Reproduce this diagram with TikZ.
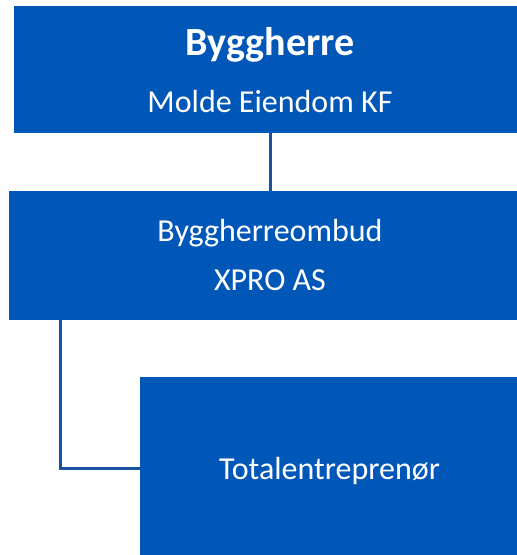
\documentclass[tikz,border=0pt]{standalone}
\usepackage{fontspec}
\setmainfont{Carlito}
\usepackage{tikz}
\definecolor{boxblue}{RGB}{0,87,184}
\definecolor{lineblue}{RGB}{22,82,160}

\begin{document}
\begin{tikzpicture}[x=1pt,y=-1pt,
        box/.style={fill=boxblue,draw=none,inner sep=0pt,outer sep=0pt,anchor=north west},
        boxtext/.style={text=white,inner sep=0pt,anchor=base,font=\fontsize{32}{38}\selectfont},
        boxtitle/.style={boxtext,font=\fontsize{40}{48}\selectfont\bfseries},
        link/.style={draw=lineblue,line width=3pt}]
        \useasboundingbox(0,0)rectangle(517,555);
        \node[box,minimum width=512pt,minimum height=127pt](byggherre)at(14,6){};
        \node[box,minimum width=522pt,minimum height=129pt](ombud)at(9,191){};
        \node[box,minimum width=379pt,minimum height=183pt](total)at(140,377){};

        \node[boxtitle](bhtitle)at(270,55){Byggherre};
        \node[boxtext](bhname)at(270,112){Molde Eiendom KF};
        \node[boxtext](omtitle)at(270,241){Byggherreombud};
        \node[boxtext](omname)at(270,290){XPRO AS};
        \node[boxtext](totitle)at(329.5,479){Totalentreprenør};

        \coordinate(knee)at(60,468);
        \draw[link](byggherre.south)--(ombud.north);
        \draw[link](ombud.south-|knee)--(knee)--(knee-|total.west);
    \end{tikzpicture}
\end{document}
